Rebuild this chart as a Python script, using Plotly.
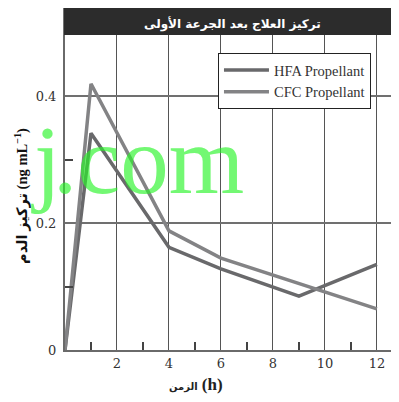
import plotly.graph_objects as go

hours_hfa = [0, 1, 4, 6, 9, 12]
conc_hfa = [0, 0.342, 0.162, 0.128, 0.085, 0.135]
hours_cfc = [0, 1, 4, 6, 12]
conc_cfc = [0, 0.42, 0.188, 0.145, 0.065]
x_ticks = [2, 4, 6, 8, 10, 12]
x_minor = [1, 3, 5, 7, 9, 11]
y_ticks = [0, 0.2, 0.4]
y_minor = [0.1, 0.3]

serif = "Liberation Serif, DejaVu Serif, DejaVu Sans"
mark = dict(family="Liberation Serif", size=97, color="rgba(40,245,40,0.65)")

fig = go.Figure()
fig.add_trace(go.Scatter(x=hours_hfa, y=conc_hfa, mode="lines", name="HFA Propellant",
                         line=dict(color="#69696b", width=3.5)))
fig.add_trace(go.Scatter(x=hours_cfc, y=conc_cfc, mode="lines", name="CFC Propellant",
                         line=dict(color="#838385", width=3.5)))

# the page body has an 8px margin, so the figure is a bit smaller than the window
fig.update_layout(
    width=391, height=394,
    margin=dict(l=57, r=0, t=27, b=52),
    plot_bgcolor="white", paper_bgcolor="white",
    font=dict(family=serif, color="#333"),
    legend=dict(x=0.458, y=0.943, xanchor="left", yanchor="top", itemwidth=45,
                bgcolor="white", bordercolor="#222", borderwidth=1,
                font=dict(family=serif, size=14.5, color="#333")),
    shapes=[dict(type="rect", xref="paper", yref="paper", x0=-0.005, x1=1.0, y0=1.0, y1=1.09,
                 fillcolor="#2c2c2c", line=dict(width=0), layer="above")],
    annotations=[
        dict(text="<b>تركيز العلاج بعد الجرعة الأولى</b>", xref="paper", yref="paper",
             x=0.5, y=1.035, xanchor="center", yanchor="middle", showarrow=False,
             font=dict(family="DejaVu Sans", size=12, color="white")),
        dict(text="<b>تركيز الدم (ng mL<sup>−1</sup>)</b>", xref="paper", yref="paper",
             x=-0.131, y=0.49, xanchor="center", yanchor="middle", textangle=-90, showarrow=False,
             font=dict(family=serif, size=14.5, color="#111")),
        dict(text="<b><span style='font-size:10px'>الزمن</span> <span style='font-size:17px'>(h)</span></b>",
             xref="paper", yref="paper", x=0.392, y=-0.111, xanchor="center", yanchor="middle",
             showarrow=False, font=dict(family=serif, size=17, color="#222")),
        # watermark over the chart
        dict(text=".com", xref="paper", yref="paper", x=0.542, y=0.603, xanchor="right", yanchor="middle",
             showarrow=False, font=mark),
        dict(text="j", xref="paper", yref="paper", x=-0.006, y=0.603, xanchor="right", yanchor="middle",
             showarrow=False, font=mark),
        dict(text="n", xref="paper", yref="paper", x=-0.159, y=0.603, xanchor="right", yanchor="middle",
             showarrow=False, font=mark),
    ],
)
fig.update_xaxes(range=[0, 12.85], tickvals=x_ticks, ticks="", showgrid=True, gridcolor="#555", gridwidth=1,
                 showline=True, linecolor="#6a6a6a", linewidth=2, zeroline=False,
                 tickfont=dict(family="DejaVu Serif", size=13, color="#333"),
                 minor=dict(tickmode="array", tickvals=x_minor, ticks="inside", ticklen=8,
                            tickcolor="#444", tickwidth=1.5, showgrid=False))
fig.update_yaxes(range=[0, 0.497], tickvals=y_ticks, ticktext=["0", "0.2", "0.4"], ticks="",
                 showgrid=True, gridcolor="#707070", gridwidth=1.5,
                 showline=True, linecolor="#6a6a6a", linewidth=2, zeroline=False,
                 tickfont=dict(family="DejaVu Serif", size=13, color="#333"), ticklabelstandoff=4,
                 minor=dict(tickmode="array", tickvals=y_minor, ticks="inside", ticklen=8,
                            tickcolor="#444", tickwidth=1.5, showgrid=False))

fig.write_html("out.html")
